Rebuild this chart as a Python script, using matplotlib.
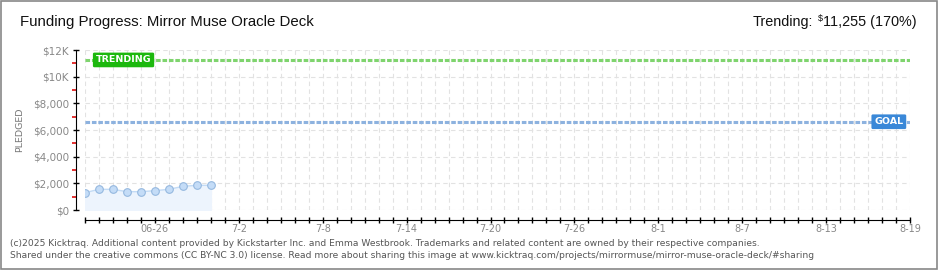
import numpy as np
import pandas as pd
import matplotlib
matplotlib.use("Agg")
import matplotlib.pyplot as plt
import matplotlib.dates as mdates
from matplotlib.patches import Rectangle

# data
dates = ["2025-06-21", "2025-06-22", "2025-06-23", "2025-06-24", "2025-06-25",
         "2025-06-26", "2025-06-27", "2025-06-28", "2025-06-29", "2025-06-30"]
pledged = [1300, 1550, 1550, 1375, 1375, 1450, 1550, 1775, 1850, 1850]
goal = 6620
trending = 11255
start, end = "2025-06-21", "2025-08-19"
label_dates = ["2025-06-26", "2025-07-02", "2025-07-08", "2025-07-14", "2025-07-20",
               "2025-07-26", "2025-08-01", "2025-08-07", "2025-08-13", "2025-08-19"]
label_text = ["06-26", "7-2", "7-8", "7-14", "7-20", "7-26", "8-1", "8-7", "8-13", "8-19"]
yticks = [0, 2000, 4000, 6000, 8000, 10000, 12000]
ylabels = ["$0", "$2,000", "$4,000", "$6,000", "$8,000", "$10K", "$12K"]

plt.rcParams["font.family"] = ["DejaVu Sans"]
head = ["Liberation Sans", "DejaVu Sans"]

x = mdates.date2num(pd.to_datetime(dates))
x0 = mdates.date2num(pd.Timestamp(start))
x1 = mdates.date2num(pd.Timestamp(end))
days = np.arange(x0, x1 + 1)
lab_x = mdates.date2num(pd.to_datetime(label_dates))

fig = plt.figure(figsize=(9.4, 2.7), dpi=100)
ax = fig.add_axes([85/940, 1-210/270, 825/940, 160/270])

ax.fill_between(x, pledged, 0, color="#edf4fd", zorder=1)
ax.plot(x, pledged, color="#c3dbf5", lw=1, zorder=2)
ax.plot(x, pledged, "o", ms=5.5, mfc="#c4dcf7", mec="#95b8df", mew=0.8, zorder=3)

ax.axhline(trending, color="#7fd46e", lw=2.2, ls=(0, (1.5, 0.6)), zorder=2)
ax.axhline(goal, color="#8db2df", lw=2.2, ls=(0, (1.5, 0.6)), zorder=2)

tr = ax.get_yaxis_transform()
ax.text(0.013, trending, "TRENDING", transform=tr, ha="left", va="center",
        fontsize=6.8, color="white", fontweight="bold", zorder=5,
        bbox=dict(boxstyle="round,pad=0.3,rounding_size=0.15", fc="#1cb80e", ec="none"))
ax.text(0.992, goal, "GOAL", transform=tr, ha="right", va="center",
        fontsize=6.8, color="white", fontweight="bold", zorder=5,
        bbox=dict(boxstyle="round,pad=0.3,rounding_size=0.15", fc="#3a88d8", ec="none"))

ax.set_xlim(x0, x1)
ax.set_ylim(0, 12000)

ax.set_xticks(days)
lab = dict(zip(np.round(lab_x), label_text))
ax.set_xticklabels([lab.get(round(d), "") for d in days])
ax.set_yticks(yticks)
ax.set_yticklabels(ylabels)
ax.set_yticks(np.arange(1000, 12000, 2000), minor=True)

ax.tick_params(axis="x", direction="inout", length=4.3, width=1, color="black",
               labelsize=7, labelcolor="#888888", pad=1)
ax.tick_params(axis="y", which="major", direction="inout", length=4.3, width=1,
               color="black", labelsize=7.5, labelcolor="#888888", pad=3)
ax.tick_params(axis="y", which="minor", direction="out", length=3, width=1.3, color="#e02020")

ax.grid(True, axis="both", which="major", color="#e2e2e2", ls=(0, (4, 3)), lw=0.8)
ax.set_axisbelow(True)

for s in ["top", "right"]:
    ax.spines[s].set_visible(False)
ax.spines["left"].set_position(("outward", 6.5))
ax.spines["bottom"].set_position(("outward", 7.2))

ax.set_ylabel("PLEDGED", fontsize=6.8, color="#777777")
ax.yaxis.set_label_coords(-0.074, 0.5)

fig.text(20/940, 1-22/270, "Funding Progress: Mirror Muse Oracle Deck",
         fontsize=10.8, color="#111111", ha="left", va="center", family=head)

# right heading: "Trending:  $11,255 (170%)" with a small raised dollar sign
r = fig.canvas.get_renderer()
t1 = fig.text(917/940, 1-22/270, "11,255 (170%)", fontsize=10.4, color="#111111",
              ha="right", va="center", family=head)
bx = t1.get_window_extent(r).x0
t2 = fig.text((bx - 0.5)/940, 1-19/270, "\\$", fontsize=6.5, color="#111111",
              ha="right", va="center", family=head)
bx = t2.get_window_extent(r).x0
fig.text((bx - 5)/940, 1-22/270, "Trending:", fontsize=10.4, color="#111111",
         ha="right", va="center", family=head)

fig.text(10/940, 1-243/270,
         "(c)2025 Kicktraq. Additional content provided by Kickstarter Inc. and Emma Westbrook. "
         "Trademarks and related content are owned by their respective companies.",
         fontsize=6.6, color="#555555", ha="left", va="center")
fig.text(10/940, 1-256/270,
         "Shared under the creative commons (CC BY-NC 3.0) license. Read more about sharing this image at "
         "www.kicktraq.com/projects/mirrormuse/mirror-muse-oracle-deck/#sharing",
         fontsize=6.6, color="#555555", ha="left", va="center")

fig.patches.append(Rectangle((0.5/940, 1.5/270), 936/940, 268/270, transform=fig.transFigure,
                             fill=False, ec="#888888", lw=1.2))

fig.savefig("out.png", dpi=100)
